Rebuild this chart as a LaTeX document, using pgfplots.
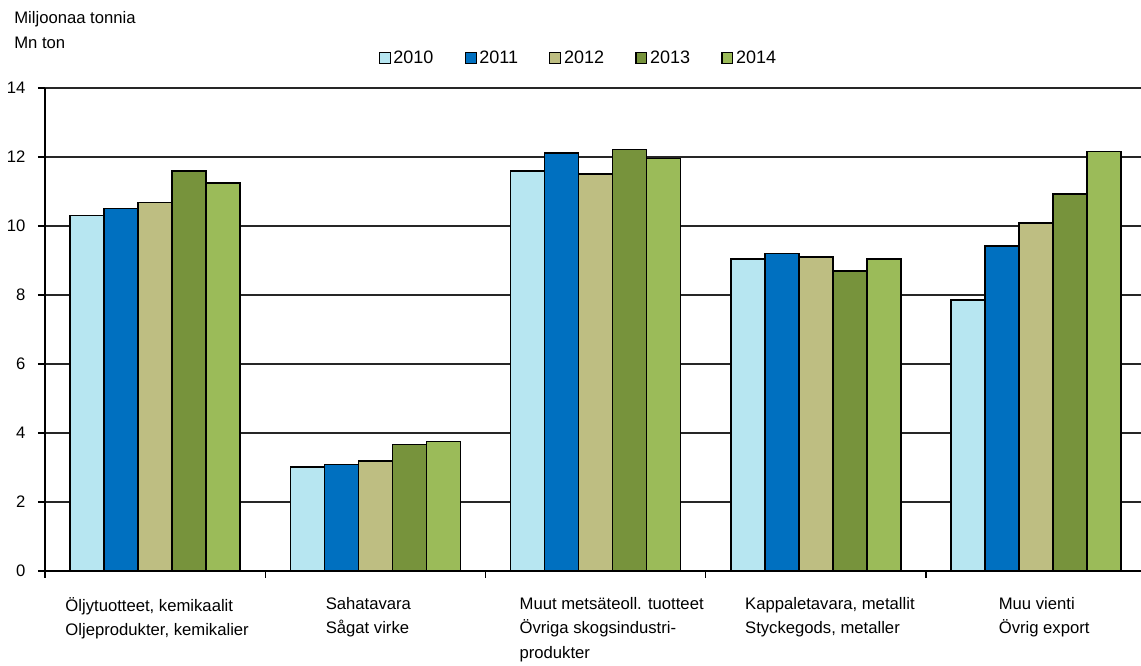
\documentclass[border=0pt]{standalone}
\usepackage{fontspec}
\setmainfont{Liberation Sans}
\usepackage{pgfplots}
\pgfplotsset{compat=1.18}
\definecolor{c10}{RGB}{183,230,241}
\definecolor{c11}{RGB}{0,112,192}
\definecolor{c12}{RGB}{190,190,130}
\definecolor{c13}{RGB}{119,147,60}
\definecolor{c14}{RGB}{155,187,89}
\pgfplotsset{legbox/.style={legend image code/.code={\draw[##1,draw=black,line width=0.8pt] (0pt,-4.1pt) rectangle (8.2pt,4.1pt);}}}
\begin{document}
\fontsize{12.5}{15}\selectfont
\begin{tikzpicture}
\begin{axis}[
  name=ax, at={(0pt,0pt)}, anchor=south west,
  scale only axis, width=822pt, height=362.25pt,
  ybar=0pt, bar width=25.5pt,
  xmin=-0.5, xmax=4.476, ymin=0, ymax=14,
  ytick={0,2,4,6,8,10,12,14},
  ymajorgrids, grid style={black!85, line width=1pt},
  axis x line*=bottom, axis y line*=left,
  x axis line style={line width=1.5pt},
  y axis line style={line width=1pt},
  tick align=outside, major tick length=5.25pt, minor tick length=5.25pt,
  xtick={0,1,2,3,4},
  minor xtick={-0.5,0.5,1.5,2.5,3.5,4.5},
  major x tick style={draw=none},
  tick style={black, line width=1pt},
  /pgf/number format/assume math mode=true,
  yticklabel style={font=\fontsize{12.5}{15}\selectfont, xshift=-5pt},
  xticklabel style={font=\fontsize{12.5}{18.4}\selectfont, align=left, anchor=north, yshift=-10pt},
  xticklabels={{\hspace*{3pt}Öljytuotteet,  kemikaalit\\\hspace*{3pt}Oljeprodukter,  kemikalier},
               {Sahatavara\hspace*{10.5pt}\\Sågat virke\hspace*{10.5pt}},
               {\hspace*{24pt}Muut metsäteoll.  tuotteet\\\hspace*{24pt}Övriga skogsindustri-\\\hspace*{24pt}produkter},
               {\hspace*{21pt}Kappaletavara,  metallit\\\hspace*{21pt}Styckegods, metaller},
               {\hspace*{12pt}Muu vienti\\\hspace*{12pt}Övrig export}},
  legend style={at={(0.487,1.062)}, anchor=center, draw=none, fill=none,
    legend columns=5, font=\fontsize{13.5}{15}\selectfont,
    /tikz/every even column/.append style={column sep=21.5pt},
    /tikz/every odd column/.append style={column sep=0pt}},
]
\addplot[fill=c10, draw=black, line width=1.1pt, legbox] coordinates {(0,10.30) (1,3.02) (2,11.59) (3,9.05) (4,7.86)};
\addplot[fill=c11, draw=black, line width=1.1pt, legbox] coordinates {(0,10.51) (1,3.08) (2,12.12) (3,9.21) (4,9.42)};
\addplot[fill=c12, draw=black, line width=1.1pt, legbox] coordinates {(0,10.68) (1,3.19) (2,11.51) (3,9.10) (4,10.09)};
\addplot[fill=c13, draw=black, line width=1.1pt, legbox] coordinates {(0,11.59) (1,3.66) (2,12.21) (3,8.70) (4,10.93)};
\addplot[fill=c14, draw=black, line width=1.1pt, legbox] coordinates {(0,11.25) (1,3.76) (2,11.96) (3,9.05) (4,12.16)};
\legend{2010,2011,2012,2013,2014}
\end{axis}
\node[anchor=base west, inner sep=0pt] at (-23.25pt,410.25pt) {Miljoonaa  tonnia};
\node[anchor=base west, inner sep=0pt] at (-23.25pt,391.5pt) {Mn ton};
\pgfresetboundingbox
\path[use as bounding box] (-33.75pt,-71.25pt) rectangle (822pt,428.25pt);
\end{tikzpicture}
\end{document}
